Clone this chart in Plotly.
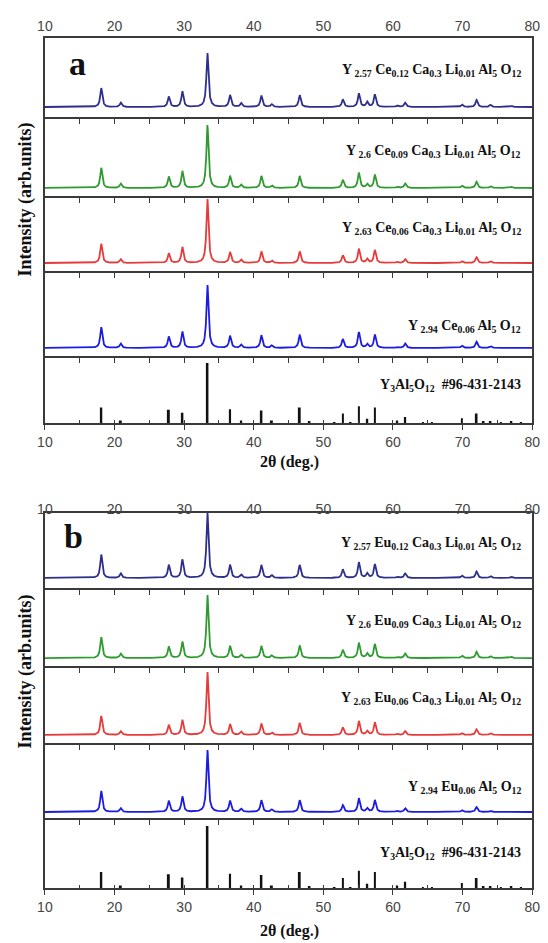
import numpy as np
import plotly.graph_objects as go

# ---------------- data ----------------
# 2-theta positions of the garnet reflections (deg.)
peak_pos = [18.1, 20.9, 27.8, 29.75, 33.35, 36.6, 38.2, 41.1, 42.6, 46.6,
            52.8, 55.1, 56.3, 57.4, 60.6, 61.75, 69.9, 72.0, 74.0, 77.0]

# relative peak intensities (strongest reflection = 1) for each sample
ce_012 = [0.35, 0.08, 0.19, 0.29, 1.0, 0.22, 0.07, 0.21, 0.05, 0.22,
          0.14, 0.25, 0.09, 0.23, 0.03, 0.08, 0.05, 0.13, 0.04, 0.02]
ce_009 = [0.32, 0.07, 0.18, 0.27, 1.0, 0.19, 0.05, 0.19, 0.04, 0.19,
          0.13, 0.24, 0.06, 0.21, 0.02, 0.07, 0.04, 0.10, 0.03, 0.02]
ce_006_ca = [0.30, 0.06, 0.15, 0.25, 1.0, 0.17, 0.05, 0.18, 0.04, 0.18,
             0.12, 0.22, 0.06, 0.20, 0.02, 0.06, 0.03, 0.09, 0.03, 0.01]
ce_006 = [0.33, 0.07, 0.18, 0.26, 1.0, 0.19, 0.05, 0.20, 0.04, 0.21,
          0.14, 0.25, 0.06, 0.21, 0.02, 0.07, 0.04, 0.10, 0.03, 0.01]

eu_012 = [0.36, 0.07, 0.20, 0.28, 1.0, 0.20, 0.05, 0.20, 0.04, 0.20,
          0.13, 0.24, 0.07, 0.21, 0.02, 0.07, 0.04, 0.10, 0.03, 0.02]
eu_009 = [0.33, 0.07, 0.18, 0.26, 1.0, 0.19, 0.05, 0.19, 0.04, 0.20,
          0.13, 0.24, 0.07, 0.22, 0.02, 0.07, 0.04, 0.10, 0.03, 0.02]
eu_006_ca = [0.30, 0.06, 0.16, 0.24, 1.0, 0.17, 0.05, 0.18, 0.04, 0.19,
             0.12, 0.22, 0.06, 0.20, 0.02, 0.06, 0.03, 0.09, 0.03, 0.01]
eu_006 = [0.34, 0.06, 0.18, 0.25, 1.0, 0.18, 0.05, 0.19, 0.04, 0.19,
          0.11, 0.22, 0.06, 0.19, 0.02, 0.06, 0.03, 0.08, 0.02, 0.01]

# reference card Y3Al5O12 #96-431-2143
ref_pos = [18.1, 20.9, 27.8, 29.75, 33.35, 36.6, 38.2, 41.1, 42.6, 46.6, 48.0,
           51.6, 52.8, 53.9, 55.1, 56.3, 57.4, 60.6, 61.75, 64.3, 65.6, 69.9,
           72.0, 73.0, 74.0, 75.5, 77.0, 78.4]
ref_int = [0.26, 0.04, 0.22, 0.17, 1.0, 0.23, 0.04, 0.21, 0.04, 0.26, 0.02,
           0.01, 0.16, 0.01, 0.28, 0.07, 0.26, 0.04, 0.10, 0.01, 0.01, 0.08,
           0.16, 0.02, 0.03, 0.01, 0.02, 0.01]

x_ticks = [10, 20, 30, 40, 50, 60, 70, 80]

labels_a = [
    "Y<sub> 2.57</sub> Ce<sub>0.12</sub> Ca<sub>0.3</sub> Li<sub>0.01</sub> Al<sub>5</sub> O<sub>12</sub>",
    "Y<sub> 2.6</sub> Ce<sub>0.09</sub> Ca<sub>0.3</sub> Li<sub>0.01</sub> Al<sub>5</sub> O<sub>12</sub>",
    "Y<sub> 2.63</sub> Ce<sub>0.06</sub> Ca<sub>0.3</sub> Li<sub>0.01</sub> Al<sub>5</sub> O<sub>12</sub>",
    "Y<sub> 2.94</sub> Ce<sub>0.06</sub> Al<sub>5</sub> O<sub>12</sub>",
    "Y<sub>3</sub>Al<sub>5</sub>O<sub>12</sub>  #96-431-2143",
]
labels_b = [
    "Y<sub> 2.57</sub> Eu<sub>0.12</sub> Ca<sub>0.3</sub> Li<sub>0.01</sub> Al<sub>5</sub> O<sub>12</sub>",
    "Y<sub> 2.6</sub> Eu<sub>0.09</sub> Ca<sub>0.3</sub> Li<sub>0.01</sub> Al<sub>5</sub> O<sub>12</sub>",
    "Y<sub> 2.63</sub> Eu<sub>0.06</sub> Ca<sub>0.3</sub> Li<sub>0.01</sub> Al<sub>5</sub> O<sub>12</sub>",
    "Y<sub> 2.94</sub> Eu<sub>0.06</sub> Al<sub>5</sub> O<sub>12</sub>",
    "Y<sub>3</sub>Al<sub>5</sub>O<sub>12</sub>  #96-431-2143",
]

# ---------------- styling / layout constants ----------------
W, H = 548, 943
X_L, X_R = 38, 540
COLORS = ["#2d2f8a", "#2f9a30", "#e63b3b", "#1c1ce0"]
SERIF = "Liberation Serif"
SANS = "Liberation Sans"
FRAME = "#3a3a3a"
LW = 1.7

panels = [
    dict(series=[ce_012, ce_009, ce_006_ca, ce_006], labels=labels_a, letter="a",
         edges=[38, 119, 198, 273, 358, 423], top_standoff=0,
         yr=[[-0.222, 1.278], [-0.159, 1.096], [-0.156, 1.016], [-0.159, 1.19], [0, 1.083]],
         label_y=[70, 151, 228, 327, 385], letter_xy=(72, 64), ytitle_y=200, xtitle_y=462),
    dict(series=[eu_012, eu_009, eu_006_ca, eu_006], labels=labels_b, letter="b",
         edges=[513, 590, 668, 745, 820, 888], top_standoff=-8,
         yr=[[-0.185, 1.0], [-0.158, 1.08], [-0.159, 1.063], [-0.129, 1.081], [0, 1.097]],
         label_y=[543, 621, 698, 787, 853], letter_xy=(67, 536), ytitle_y=672, xtitle_y=931),
]

grid = np.arange(10, 80.001, 0.02)
HWHM = 0.18


def profile(heights):
    y = np.zeros_like(grid)
    for p, h in zip(peak_pos, heights):
        y += h / (1 + ((grid - p) / HWHM) ** 2)
    return y


def py(px):
    return 1 - px / H


def note(text, xpx, ypx, size, angle=0, xanchor="center"):
    return dict(text=text, xref="paper", yref="paper", x=xpx / W, y=py(ypx),
                xanchor=xanchor, yanchor="middle", textangle=angle, showarrow=False,
                font=dict(family=SERIF, size=size, color="#111"))


fig = go.Figure()
layout = dict(width=W, height=H, margin=dict(l=0, r=0, t=0, b=0),
              paper_bgcolor="white", plot_bgcolor="rgba(0,0,0,0)",
              showlegend=False, annotations=[])

xdom = [X_L / W, X_R / W]
tickfont = dict(family=SANS, size=14, color="#444")
axis_n = 0
for pi, pn in enumerate(panels):
    for k in range(5):
        axis_n += 1
        n = axis_n
        xa = "x" if n == 1 else f"x{n}"
        ya = "y" if n == 1 else f"y{n}"
        top, bot = pn["edges"][k], pn["edges"][k + 1]
        xkey = "xaxis" if n == 1 else f"xaxis{n}"
        ykey = "yaxis" if n == 1 else f"yaxis{n}"
        # each layer draws only its top edge, so shared edges are a single line
        xcfg = dict(domain=xdom, anchor=ya, range=[10, 80], showgrid=False, zeroline=False,
                    showline=True, linecolor=FRAME, linewidth=LW, mirror=False,
                    side="top", tickfont=tickfont)
        if k == 0:
            xcfg.update(ticks="", tickvals=x_ticks, showticklabels=True,
                        ticklabelstandoff=pn["top_standoff"])
        else:
            xcfg.update(ticks="inside", tick0=10, dtick=5, ticklen=5, tickwidth=1.4,
                        tickcolor=FRAME, showticklabels=False)
        layout[xkey] = xcfg
        layout[ykey] = dict(domain=[py(bot), py(top)], anchor=xa, range=pn["yr"][k],
                            showgrid=False, zeroline=False, showticklabels=False, ticks="",
                            showline=True, linecolor=FRAME, linewidth=LW, mirror=True)
        if k < 4:
            fig.add_trace(go.Scatter(x=grid, y=profile(pn["series"][k]), mode="lines",
                                     line=dict(color=COLORS[k], width=1.8),
                                     xaxis=xa, yaxis=ya, hoverinfo="skip"))
        else:
            fig.add_trace(go.Bar(x=ref_pos, y=ref_int, width=0.28, marker_color="#111",
                                 marker_line_width=0, xaxis=xa, yaxis=ya, hoverinfo="skip"))
            # bottom axis with labelled ticks
            ov = 10 + pi + 1
            layout[f"xaxis{ov}"] = dict(overlaying=xa, anchor=ya, side="bottom", range=[10, 80],
                                        showgrid=False, zeroline=False, showline=True,
                                        linecolor=FRAME, linewidth=LW,
                                        tickvals=x_ticks, ticks="outside", ticklen=5,
                                        tickwidth=1.4, tickcolor=FRAME,
                                        minor=dict(ticks="inside", tick0=10, dtick=5, ticklen=3,
                                                   tickcolor=FRAME, tickwidth=1.2),
                                        tickfont=tickfont)
            fig.add_trace(go.Scatter(x=[ref_pos[0]], y=[ref_int[0]], mode="markers",
                                     marker=dict(opacity=0), xaxis=f"x{ov}", yaxis=ya,
                                     hoverinfo="skip"))
        layout["annotations"].append(note("<b>" + pn["labels"][k] + "</b>", 531,
                                          pn["label_y"][k], 14, xanchor="right"))

    lx, ly = pn["letter_xy"]
    layout["annotations"].append(note("<b>" + pn["letter"] + "</b>", lx, ly, 34))
    layout["annotations"].append(note("<b>Intensity (arb.units)</b>", 17, pn["ytitle_y"], 18,
                                      angle=-90))
    layout["annotations"].append(note("<b>2θ (deg.)</b>", 290, pn["xtitle_y"], 16))

fig.update_layout(**layout)
fig.write_html("out.html")
